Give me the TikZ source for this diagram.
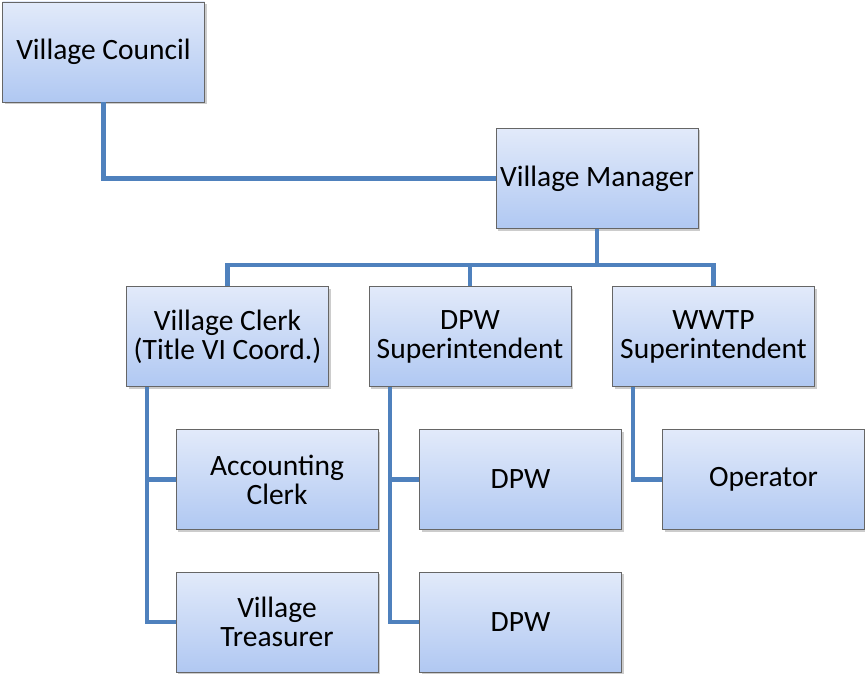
\documentclass[tikz,border=0pt]{standalone}
\usepackage{fontspec}
\setmainfont{Carlito}
\usepackage{xcolor}
\usetikzlibrary{shadows}

\definecolor{linkblue}{RGB}{79,129,189}
\definecolor{boxtop}{RGB}{226,234,250}
\definecolor{boxbottom}{RGB}{176,200,242}

\tikzset{
    orgbox/.style={draw=gray!80!black, line width=0.8pt, top color=boxtop, bottom color=boxbottom,
        minimum width=202pt, minimum height=100pt, align=center, font=\fontsize{29.5}{29}\selectfont,
        drop shadow={shadow xshift=2pt, shadow yshift=-2pt, opacity=0.4}},
    link/.style={draw=linkblue, line width=4.5pt}
}

\begin{document}
\begin{tikzpicture}[x=1pt, y=-1pt]
        \useasboundingbox (0,0) rectangle (865,674);

        \node[orgbox] (council) at (103.5, 52) {Village Council};
        \node[orgbox] (manager) at (597, 178.5) {Village Manager};
        \node[orgbox] (clerk) at (227.5, 336.5) {Village Clerk\\(Title VI Coord.)};
        \node[orgbox] (dpws) at (470, 336.5) {DPW\\Superintendent};
        \node[orgbox] (wwtp) at (713.5, 336.5) {WWTP\\Superintendent};
        \node[orgbox] (acct) at (277, 479.5) {Accounting\\Clerk};
        \node[orgbox] (treasurer) at (277, 622) {Village\\Treasurer};
        \node[orgbox] (dpwa) at (520.5, 479.5) {DPW};
        \node[orgbox] (dpwb) at (520.5, 622) {DPW};
        \node[orgbox] (operator) at (763.5, 479.5) {Operator};

        \coordinate (bus) at (597, 265);
        \coordinate (clerkleg) at (147, 387);
        \coordinate (dpwleg) at (390, 387);
        \coordinate (wwtpleg) at (633, 387);

        \begin{scope}[on background layer/.try]
        \draw[link] (council.south) |- (manager.west);
        \draw[link] (manager.south) -- (bus);
        \draw[link] (clerk.north) |- (bus) -| (wwtp.north);
        \draw[link] (dpws.north) -- (dpws.north |- bus);
        \draw[link] (clerkleg) |- (acct.west);
        \draw[link] (clerkleg) |- (treasurer.west);
        \draw[link] (dpwleg) |- (dpwa.west);
        \draw[link] (dpwleg) |- (dpwb.west);
        \draw[link] (wwtpleg) |- (operator.west);
        \end{scope}
    \end{tikzpicture}
\end{document}
